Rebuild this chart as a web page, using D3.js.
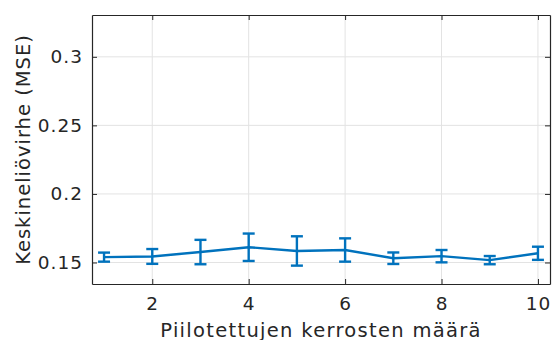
<!DOCTYPE html>
<html>
<head>
<meta charset="utf-8">
<script src="https://cdn.jsdelivr.net/npm/d3@7"></script>
<style>
  body { margin: 0; background: #fff; }
  svg { display: block; }
</style>
</head>
<body>
<script>
// number of hidden layers vs. mean squared error (mean +- std)
const layers = [1, 2, 3, 4, 5, 6, 7, 8, 9, 10]
const mse = [0.1539, 0.1544, 0.1576, 0.1611, 0.1584, 0.1591, 0.1531, 0.1546, 0.1517, 0.1567]
const err = [0.0033, 0.0054, 0.0089, 0.0100, 0.0107, 0.0085, 0.0042, 0.0045, 0.0030, 0.0048]
const xTicks = [2, 4, 6, 8, 10]
const yTicks = [0.15, 0.2, 0.25, 0.3]

const W = 554
const H = 340
const margin = { top: 15, right: 4, bottom: 56, left: 92 }
const axisColor = '#262626'
const blue = '#0072BD'

const svg = d3.select('body').append('svg').attr('width', W).attr('height', H)

const x = d3.scaleLinear().domain([0.75, 10.25]).range([margin.left, W - margin.right])
const y = d3.scaleLinear().domain([0.1343, 0.3305]).range([H - margin.bottom, margin.top])

const plot = svg.append('g')

// grid
plot.selectAll('line.gx')
  .data(xTicks)
  .join('line')
  .attr('class', 'gx')
  .attr('x1', d => x(d)).attr('x2', d => x(d))
  .attr('y1', y.range()[0]).attr('y2', y.range()[1])
  .attr('stroke', '#e3e3e3')
  .attr('stroke-width', 1)

plot.selectAll('line.gy')
  .data(yTicks)
  .join('line')
  .attr('class', 'gy')
  .attr('y1', d => y(d)).attr('y2', d => y(d))
  .attr('x1', x.range()[0]).attr('x2', x.range()[1])
  .attr('stroke', '#e3e3e3')
  .attr('stroke-width', 1)

// axes (ticks inside, box on)
const tickLen = 5
const fmt = d => String(d)
const xAxisB = svg.append('g')
  .attr('transform', `translate(0,${y.range()[0]})`)
  .call(d3.axisBottom(x).tickValues(xTicks).tickSizeInner(-tickLen).tickSizeOuter(0).tickPadding(13).tickFormat(fmt))
const xAxisT = svg.append('g')
  .attr('transform', `translate(0,${y.range()[1]})`)
  .call(d3.axisTop(x).tickValues(xTicks).tickSizeInner(-tickLen).tickSizeOuter(0).tickFormat(''))
const yAxisL = svg.append('g')
  .attr('transform', `translate(${x.range()[0]},0)`)
  .call(d3.axisLeft(y).tickValues(yTicks).tickSizeInner(-tickLen).tickSizeOuter(0).tickPadding(9).tickFormat(fmt))
const yAxisR = svg.append('g')
  .attr('transform', `translate(${x.range()[1]},0)`)
  .call(d3.axisRight(y).tickValues(yTicks).tickSizeInner(-tickLen).tickSizeOuter(0).tickFormat(''))

for (const a of [xAxisB, xAxisT, yAxisL, yAxisR]) {
  a.select('.domain').attr('stroke', axisColor).attr('stroke-width', 1.2)
  a.selectAll('.tick line').attr('stroke', axisColor)
  a.selectAll('.tick text')
    .attr('fill', axisColor)
    .style('font', '18.5px "DejaVu Sans"')
    .style('letter-spacing', '1px')
}

// data line
const line = d3.line().x((d, i) => x(layers[i])).y(d => y(d))
svg.append('path')
  .datum(mse)
  .attr('d', line)
  .attr('fill', 'none')
  .attr('stroke', blue)
  .attr('stroke-width', 2.4)

// error bars
const capW = 6
const bars = svg.append('g')
  .selectAll('g')
  .data(layers)
  .join('g')
  .attr('stroke', blue)
  .attr('stroke-width', 2.4)
bars.append('line')
  .attr('x1', d => x(d)).attr('x2', d => x(d))
  .attr('y1', (d, i) => y(mse[i] - err[i])).attr('y2', (d, i) => y(mse[i] + err[i]))
bars.append('line')
  .attr('x1', d => x(d) - capW).attr('x2', d => x(d) + capW)
  .attr('y1', (d, i) => y(mse[i] + err[i])).attr('y2', (d, i) => y(mse[i] + err[i]))
bars.append('line')
  .attr('x1', d => x(d) - capW).attr('x2', d => x(d) + capW)
  .attr('y1', (d, i) => y(mse[i] - err[i])).attr('y2', (d, i) => y(mse[i] - err[i]))

// labels
svg.append('text')
  .attr('x', (x.range()[0] + x.range()[1]) / 2)
  .attr('y', 336.5)
  .attr('text-anchor', 'middle')
  .attr('fill', axisColor)
  .style('font', '19.5px "DejaVu Sans"')
  .style('letter-spacing', '1.3px')
  .text('Piilotettujen kerrosten määrä')

svg.append('text')
  .attr('transform', `translate(30,${(y.range()[0] + y.range()[1]) / 2}) rotate(-90)`)
  .attr('text-anchor', 'middle')
  .attr('fill', axisColor)
  .style('font', '19.5px "DejaVu Sans"')
  .style('letter-spacing', '1px')
  .text('Keskineliövirhe (MSE)')
</script>
</body>
</html>
